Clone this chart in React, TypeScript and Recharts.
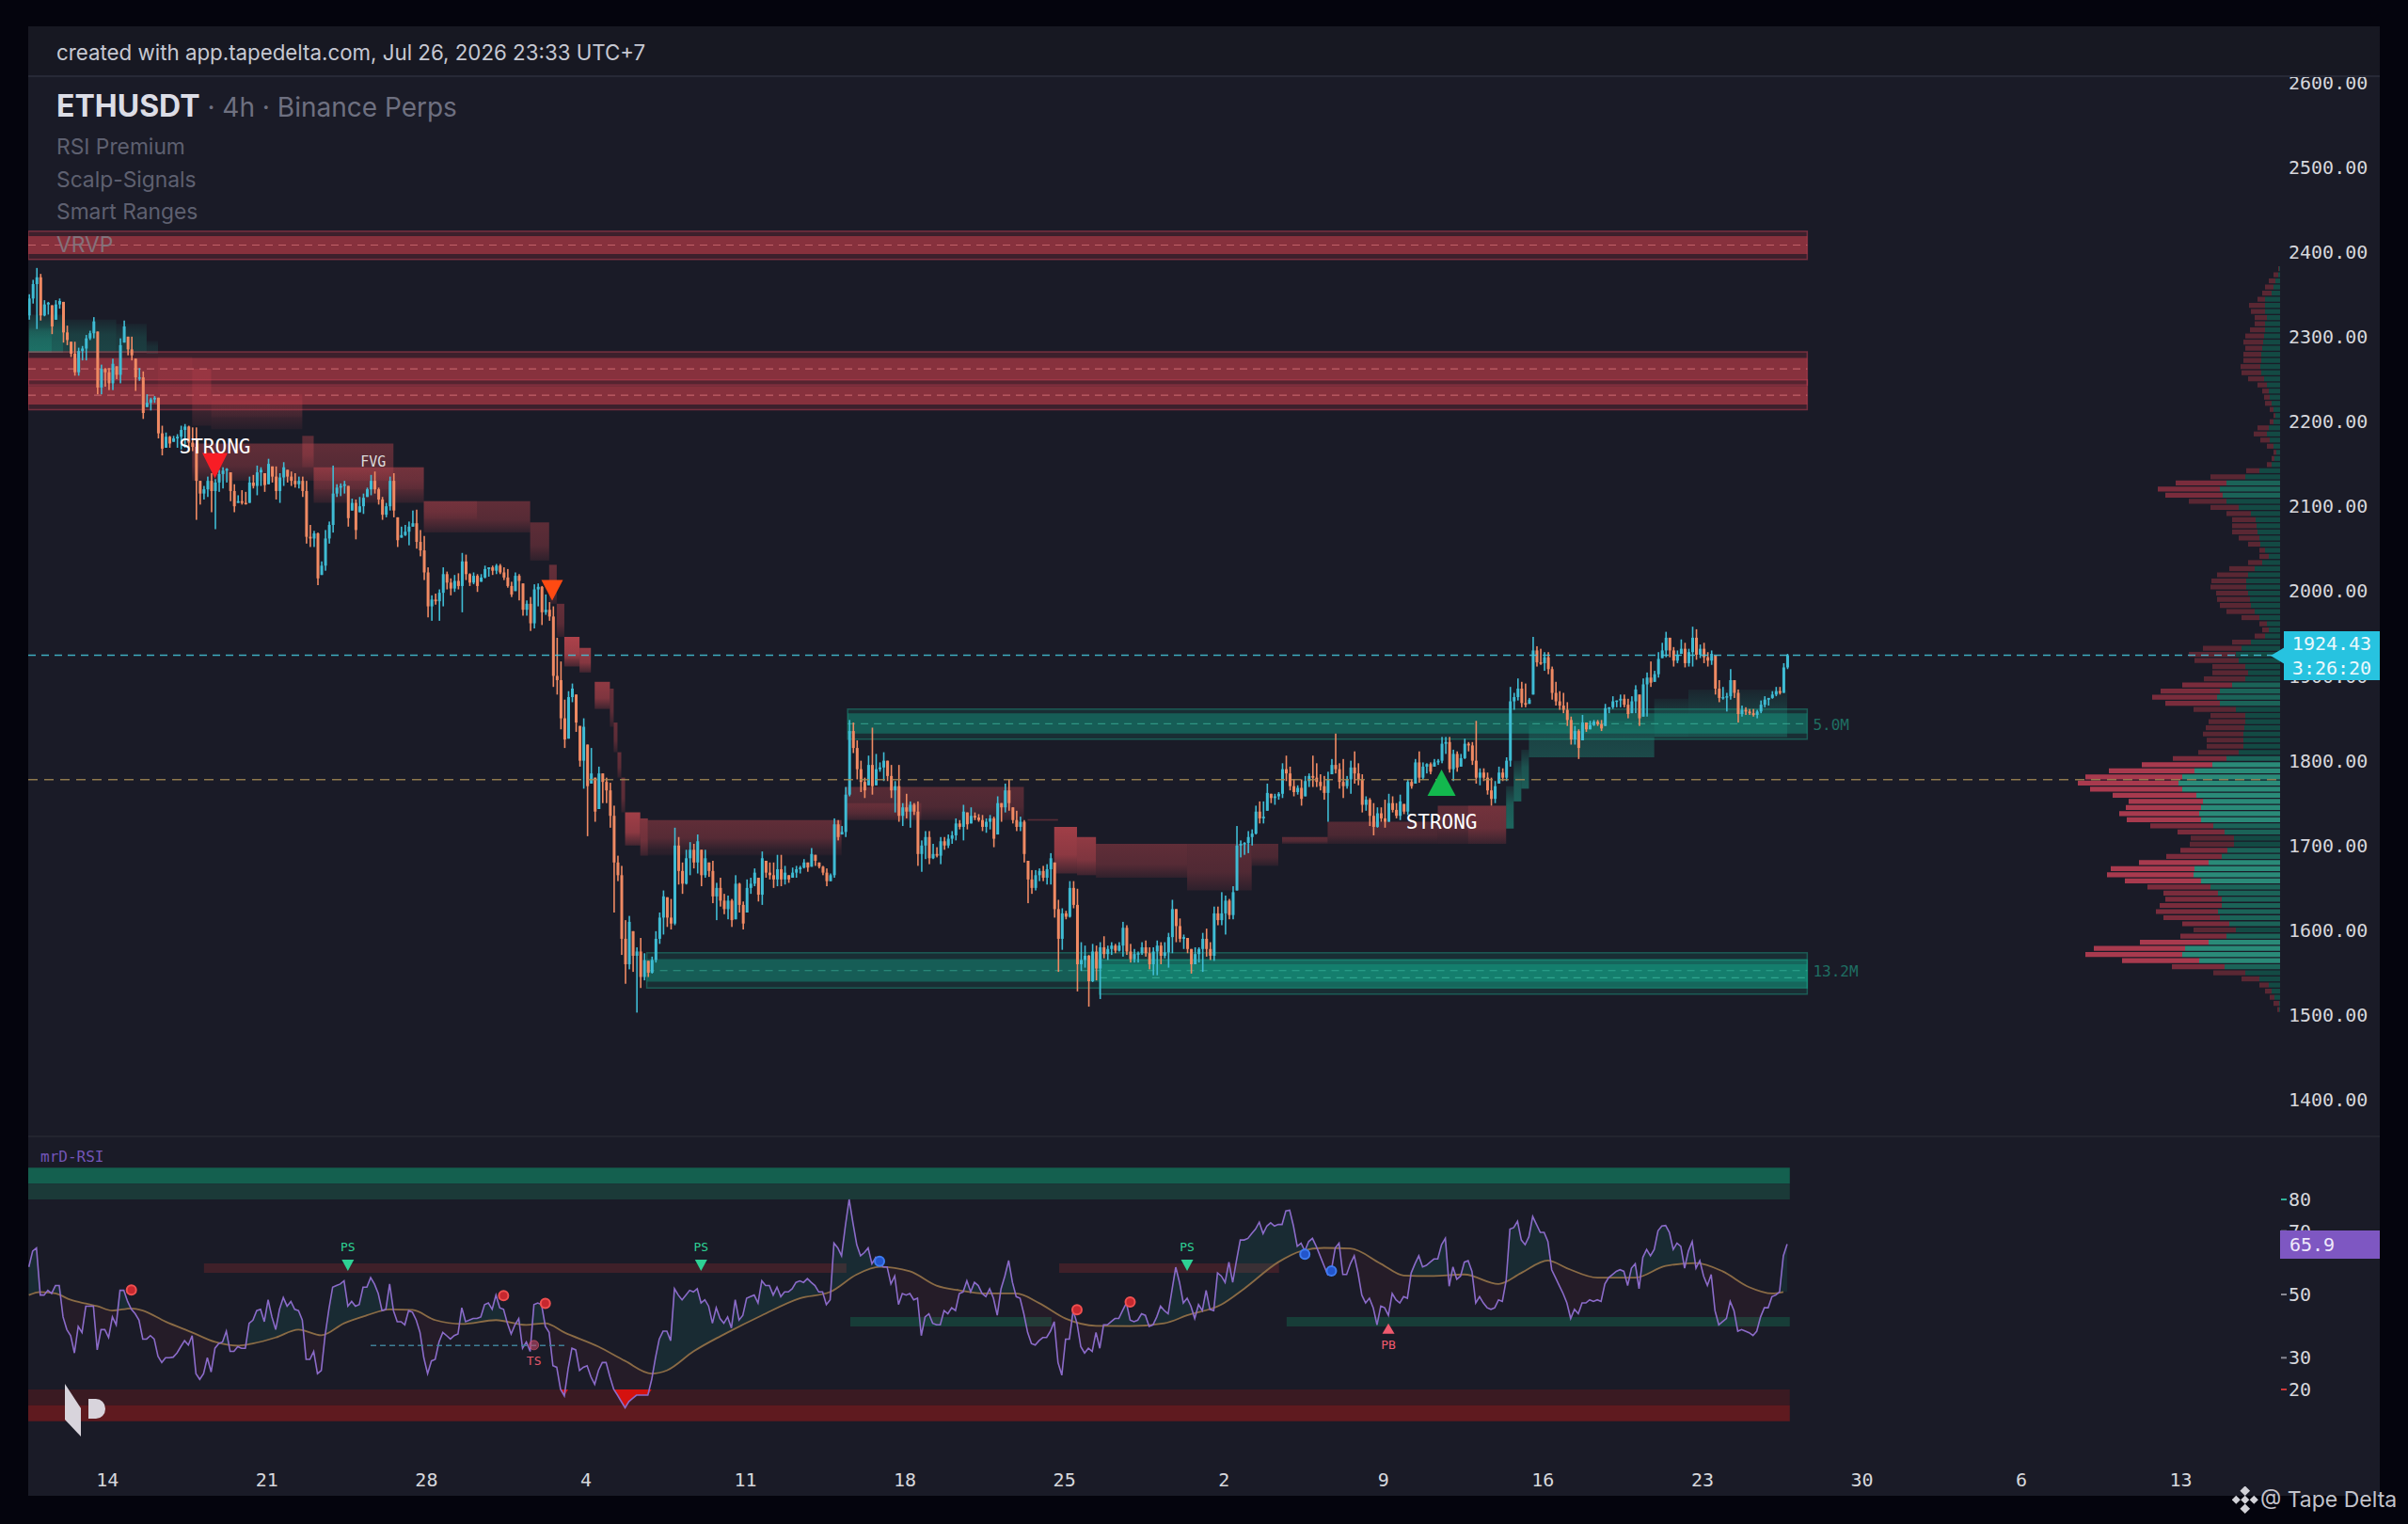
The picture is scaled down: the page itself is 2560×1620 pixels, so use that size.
import React from 'react';
import { ComposedChart, Bar, Line, Area, Cell, XAxis, YAxis, ReferenceArea, ReferenceLine, ReferenceDot } from 'recharts';

// ---------- price: [high, low, close] per 4h candle ----------
const candlesA = [
[2350,2320,2345],[2367,2339,2362],[2381,2309,2370],[2374,2319,2325],[2343,2324,2338],[2341,2326,2340],[2337,2303,2312],[2343,2320,2338],[2345,2333,2342],[2341,2293,2305],
[2313,2290,2296],[2294,2276,2280],[2294,2254,2258],[2287,2254,2283],[2289,2272,2286],[2302,2272,2298],[2307,2296,2304],[2323,2298,2318],[2306,2232,2240],[2267,2232,2262],
[2263,2241,2258],[2263,2237,2245],[2274,2237,2268],[2265,2250,2255],[2298,2245,2290],[2319,2293,2312],[2300,2278,2285],[2300,2272,2278],[2274,2236,2252],[2263,2248,2252],
[2259,2203,2210],[2232,2217,2222],[2228,2213,2226],[2230,2222,2228],[2228,2180,2186],[2195,2160,2168],[2187,2169,2182],[2183,2169,2174],[2183,2176,2180],[2185,2169,2182],
[2195,2167,2190],[2197,2169,2194],[2195,2165,2175],[2193,2165,2170],[2193,2084,2130],[2130,2102,2115],[2124,2108,2120],[2135,2111,2130],[2139,2093,2118],[2132,2073,2128],
[2143,2117,2138],[2146,2121,2142],[2145,2128,2144],[2140,2106,2118],[2126,2093,2100],[2113,2104,2106],[2119,2102,2104],[2117,2102,2103],[2135,2104,2128],[2137,2121,2124],
[2148,2113,2140],[2146,2124,2143],[2139,2117,2125],[2156,2126,2150],[2147,2128,2135],[2147,2108,2118],[2139,2104,2134],[2152,2124,2146],[2143,2128,2135],[2141,2124,2130],
[2139,2122,2126],[2135,2121,2130],[2135,2111,2118],[2130,2056,2064],[2078,2052,2062],[2071,2052,2068],[2069,2007,2015],[2035,2019,2030],[2072,2024,2062],[2082,2056,2078],
[2148,2069,2115],[2126,2111,2122],[2127,2112,2124],[2130,2115,2126],[2124,2076,2086],[2109,2095,2104],[2108,2061,2072],[2111,2093,2100],[2115,2091,2110],[2122,2111,2120],
[2137,2113,2130],[2141,2115,2120],[2122,2102,2108],[2111,2084,2090],[2104,2087,2100],[2135,2095,2130],[2139,2087,2095],[2087,2052,2060],[2076,2063,2066],[2078,2065,2070],
[2082,2054,2076],[2095,2076,2080],[2096,2050,2058],[2072,2041,2048],[2065,2013,2022],[2028,1969,1982],[1995,1965,1990],[1997,1984,1988],[2002,1965,1998],[2028,1982,2020],
[2023,2002,2010],[2015,1995,2003],[2019,1999,2012],[2021,2002,2006],[2045,1975,2035],[2043,2013,2020],[2021,2006,2010],
];
const candlesB = [
[2022,2008,2018],[2020,1999,2006],[2020,2011,2016],[2030,2015,2026],[2028,2017,2028],[2030,2019,2024],[2032,2020,2030],[2032,2020,2022],[2028,2013,2016],[2026,2004,2006],
[2011,1993,1996],[2022,2000,2018],[2020,1989,2012],[2009,1971,1978],[1989,1971,1985],[1993,1953,1962],[2008,1956,2002],[2009,1982,2005],[2006,1960,1975],[1996,1972,1978],
[1987,1965,1970],[1982,1887,1900],[1945,1878,1895],[1917,1837,1850],[1872,1815,1825],[1882,1826,1875],[1891,1869,1885],[1878,1834,1845],[1841,1793,1800],[1850,1767,1840],
[1819,1711,1770],[1815,1773,1785],[1780,1728,1740],[1793,1743,1785],[1785,1750,1775],[1780,1750,1765],[1774,1721,1735],[1747,1621,1680],[1688,1658,1665],[1676,1571,1590],
[1612,1537,1560],[1617,1554,1610],[1599,1551,1570],[1580,1503,1575],[1591,1532,1545],[1573,1541,1565],[1564,1545,1550],[1569,1549,1565],[1599,1562,1590],[1621,1584,1615],
[1647,1595,1640],[1639,1604,1615],[1637,1601,1608],[1721,1606,1700],[1710,1654,1670],[1680,1643,1655],[1695,1654,1685],[1704,1665,1695],[1702,1673,1680],[1713,1667,1705],
[1695,1652,1665],[1695,1662,1685],[1680,1663,1670],[1682,1632,1640],[1656,1612,1650],[1662,1628,1635],[1643,1619,1625],[1641,1613,1635],[1637,1604,1612],[1665,1613,1655],
[1656,1621,1630],[1634,1601,1608],[1660,1621,1650],[1662,1643,1655],[1673,1652,1668],[1662,1634,1642],[1693,1630,1685],[1682,1662,1668],[1680,1660,1665],[1680,1650,1660],
[1689,1652,1672],[1689,1652,1660],[1676,1654,1668],[1665,1656,1660],[1674,1662,1668],[1676,1662,1672],[1676,1667,1674],[1684,1673,1680],[1680,1669,1674],[1697,1675,1690],
[1689,1676,1682],[1680,1673,1675],[1676,1665,1668],[1673,1652,1658],[1667,1658,1665],[1732,1662,1725],[1730,1706,1710],[1723,1713,1716],[1769,1710,1760],[1848,1758,1835],
[1845,1809,1815],[1824,1778,1790],[1800,1763,1775],[1780,1756,1765],[1806,1771,1795],[1839,1760,1770],[1808,1771,1790],[1798,1787,1792],[1810,1776,1800],[1800,1776,1782],
[1795,1756,1765],[1776,1739,1770],[1795,1728,1735],[1750,1723,1745],[1761,1732,1740],[1752,1721,1748],[1750,1736,1740],[1752,1676,1690],[1706,1669,1700],
];
const candlesC = [
[1717,1684,1710],[1717,1678,1685],[1702,1684,1690],[1698,1686,1688],[1710,1678,1705],[1710,1695,1700],[1713,1697,1708],[1717,1702,1712],[1732,1706,1726],[1730,1719,1722],
[1748,1706,1740],[1739,1719,1725],[1745,1726,1735],[1739,1730,1733],[1737,1728,1730],[1736,1717,1722],[1732,1715,1728],[1736,1719,1732],[1734,1698,1708],[1758,1713,1750],
[1750,1728,1745],[1773,1739,1765],[1778,1741,1750],[1745,1726,1730],[1741,1717,1722],[1734,1717,1728],[1730,1680,1690],[1682,1632,1660],[1671,1643,1650],[1671,1647,1665],
[1673,1658,1670],[1676,1658,1662],[1678,1654,1672],[1691,1654,1685],[1680,1615,1625],[1636,1551,1590],[1626,1577,1620],[1623,1613,1616],[1658,1615,1650],[1658,1626,1630],
[1649,1528,1560],[1586,1552,1565],[1582,1556,1570],[1571,1510,1540],[1584,1539,1575],[1582,1541,1555],[1586,1519,1580],[1593,1567,1572],[1582,1565,1578],[1586,1571,1582],
[1584,1573,1576],[1586,1575,1582],[1610,1569,1603],[1606,1571,1575],[1584,1562,1566],[1578,1562,1572],[1575,1562,1573],[1586,1571,1580],[1588,1569,1573],[1580,1554,1560],
[1580,1547,1575],[1588,1547,1582],[1586,1560,1570],[1586,1567,1574],[1597,1556,1592],[1636,1573,1625],[1625,1586,1605],[1614,1586,1590],[1595,1578,1592],[1591,1573,1578],
[1578,1549,1560],[1580,1560,1572],[1580,1562,1578],[1597,1551,1590],[1602,1569,1578],[1586,1565,1570],[1628,1564,1620],[1628,1606,1612],[1645,1606,1620],[1641,1595,1635],
[1637,1613,1618],[1652,1613,1645],[1723,1647,1700],[1706,1686,1702],[1704,1689,1703],[1717,1691,1710],[1719,1700,1714],[1747,1713,1740],[1752,1726,1732],[1752,1726,1734],
[1773,1741,1762],[1761,1750,1756],[1761,1748,1758],[1763,1754,1761],[1797,1756,1790],[1806,1776,1785],[1793,1765,1770],[1778,1758,1763],[1771,1760,1768],[1778,1747,1755],
[1782,1758,1776],[1785,1769,1782],[1806,1769,1780],[1797,1769,1775],[1784,1765,1770],[1782,1754,1762],[1787,1728,1778],[1802,1784,1795],[1832,1785,1790],[1797,1767,1775],
[1802,1756,1770],[1782,1767,1778],[1800,1761,1792],[1811,1773,1785],[1797,1771,1778],[1784,1739,1748],
];
const candlesD = [
[1758,1741,1754],[1756,1723,1735],[1750,1712,1722],[1745,1721,1738],[1745,1728,1732],[1754,1721,1728],[1761,1728,1750],[1758,1739,1742],[1750,1732,1735],[1760,1730,1752],
[1749,1737,1740],[1778,1736,1775],[1778,1767,1770],[1802,1773,1798],[1811,1774,1780],[1798,1778,1793],[1797,1785,1796],[1798,1784,1787],[1802,1793,1798],[1802,1795,1800],
[1828,1797,1820],[1828,1808,1822],[1828,1786,1790],[1813,1776,1808],[1811,1787,1792],[1808,1793,1803],[1826,1802,1820],[1822,1811,1818],[1822,1795,1800],[1847,1773,1780],
[1791,1771,1786],[1791,1776,1780],[1786,1760,1765],[1780,1747,1755],[1776,1750,1770],[1793,1773,1786],[1791,1776,1780],[1804,1776,1800],[1887,1793,1870],[1880,1860,1875],
[1897,1871,1885],[1893,1863,1868],[1891,1863,1866],[1874,1867,1872],[1946,1878,1930],[1935,1911,1916],[1932,1913,1915],[1928,1906,1922],[1928,1902,1908],[1911,1872,1880],
[1893,1865,1870],[1882,1860,1865],[1880,1856,1860],[1869,1841,1848],[1852,1819,1825],[1841,1819,1835],[1837,1802,1815],[1854,1824,1845],[1845,1834,1837],[1847,1837,1842],
[1848,1841,1846],[1848,1841,1843],[1848,1835,1838],[1867,1841,1862],[1863,1856,1863],[1876,1861,1870],[1871,1863,1871],[1878,1863,1873],[1878,1863,1866],[1873,1850,1855],
[1876,1856,1870],[1889,1856,1884],[1878,1841,1850],[1897,1852,1890],[1904,1852,1898],[1917,1887,1892],[1906,1893,1902],[1928,1898,1920],[1939,1921,1930],[1952,1922,1945],
[1945,1922,1930],[1934,1911,1918],[1930,1915,1925],[1943,1926,1932],[1939,1910,1915],[1932,1911,1928],[1958,1911,1945],[1955,1919,1925],[1937,1921,1932],[1939,1915,1922],
[1928,1911,1918],[1930,1913,1926],[1924,1878,1885],[1895,1869,1874],[1887,1872,1875],[1880,1858,1876],[1908,1872,1895],[1895,1874,1880],[1884,1845,1855],[1865,1852,1860],
[1863,1854,1858],[1861,1854,1856],[1861,1852,1854],[1860,1850,1858],[1871,1856,1866],[1876,1863,1872],[1874,1865,1874],[1882,1873,1878],[1887,1876,1882],[1887,1878,1880],
[1915,1880,1910],[1926,1908,1924.43],
];
const firstOpen = 2325;
const priceTicks = [2600, 2500, 2400, 2300, 2200, 2100, 2000, 1900, 1800, 1700, 1600, 1500, 1400];
const lastPrice = 1924.43;
const pocPrice = 1777.7;

// ---------- volume profile, top row to bottom row ----------
const vrvpTopPrice = 2380.6;
const vrvpStep = 7.22;
const vrvpTotal = [2,7,12,16,19,24,33,31,27,27,32,37,39,37,39,39,42,41,34,24,19,17,16,11,7,11,24,28,21,14,7,9,14,36,74,111,130,122,97,74,57,51,51,51,44,34,22,22,34,54,67,73,74,68,67,64,57,41,22,19,27,51,82,97,91,72,72,81,104,127,136,122,92,74,76,79,82,78,78,87,114,147,182,207,215,202,178,161,164,171,163,138,109,95,96,106,121,150,180,184,165,141,124,122,128,132,124,104,92,106,149,198,207,168,115,71,41,22,16,11,7,3];
const vrvpBuy = [1,2,5,7,9,16,16,16,14,16,16,17,18,19,20,20,21,20,17,14,12,11,9,7,5,7,12,14,11,7,4,6,9,22,37,57,64,61,57,44,31,26,25,24,22,21,16,12,19,27,34,36,36,34,32,31,27,22,14,12,16,31,41,47,44,37,34,37,51,64,67,64,47,37,37,38,39,39,39,44,57,72,91,104,108,104,89,82,84,86,84,71,59,49,49,56,62,76,91,92,84,74,66,62,62,66,64,54,47,57,76,101,104,86,59,37,22,12,9,6,1,1];

// ---------- liquidity zones: from, to, outer high, outer low, inner high, inner low, mid ----------
const supplyZones = [
  [-0.17, 468.3, 2424.5, 2391, 2418.6, 2397.6, 2408],
  [-0.17, 468.3, 2282, 2243, 2275, 2249, 2262],
  [-0.17, 468.3, 2249, 2214, 2242, 2220, 2231],
];
const demandZones = [
  [215.6, 468.3, 1861, 1825.5, 1856, 1832, 1843.6],
  [162.7, 468.3, 1573.5, 1532, 1566, 1539.5, 1552.5],
  [281.9, 468.3, 1565, 1524.7, 1560, 1532, 1544],
];
// ---------- stepped cloud: from, to, high, low, strength ----------
const tealCloud = [
  [0,9,2326,2281,.5],[0,6,2310,2281,.25],[9,23,2320,2281,.3],[23,31,2315,2281,.25],[31,34,2295,2280,.16],
  [389,391,1770,1720,.55],[391,393,1800,1752,.5],[393,395,1813,1767,.48],[395,428,1847,1804,.34],[428,437,1873,1828,.3],[437,463,1884,1828,.28],
];
const redCloud = [
  [34,43,2276,2232,.12],[43,48,2262,2195,.3],[48,72,2232,2191,.24],[48,72,2225,2205,.12],[72,75,2183,2146,.4],
  [43,96,2174,2130,.42],[75,104,2146,2104,.42],[75,104,2146,2120,.18],[104,132,2106,2069,.42],[104,118,2106,2085,.2],
  [132,137,2081,2036,.4],[137,139,2031,1985,.45],[139,141,1985,1946,.45],[141,145,1946,1911,.85],[141,145,1946,1920,.15],[145,148,1933,1904,.75],
  [149,153,1893,1861,.7],[153,154,1885,1840,.45],[154,155,1845,1810,.45],[155,156,1810,1780,.45],[156,157,1780,1739,.45],
  [157,161,1739,1700,.8],[161,163,1732,1688,.6],[163,214,1730,1695,.42],[163,214,1695,1688,.12],[215,262,1769,1730,.36],[215,235,1750,1730,.2],
  [263,271,1731,1729,.4],[270,276,1722,1667,.8],[276,281,1710,1665,.7],[281,305,1702,1662,.42],[305,322,1702,1647,.38],[322,329,1702,1676,.34],
  [330,342,1710,1702,.4],[342,371,1728,1702,.34],[371,389,1747,1702,.4],[379,389,1747,1702,.22],
];

// ---------- RSI ----------
const rsiFirst = [58.7,63.7,64.7,49.8,49.8,51.3,50.3,52.8,52.8,42.9,38.9,37,31.5,39.9,38,46.3,46.3,46.3,32.5,38.9,38.9,36.4,42.9,40.4,51.3,51.3,47.8,45.3,43.9,41.9,35.9,35.9,37,35.9,30.5,28.5,30,30,30.2,31.5,33.5,35.4,34,37,25,23.2,25,30,25.5,33,34.5,35,38.4,32,32,33.5,33,33,40.9,41.9,44.9,45.3,41.4,48.3,42.9,38.9,45.3,49,46.3,47.8,45.3,44.9,41.9,29.5,29.5,32,25,26,37,45.3,52.3,52.8,53.3,54.3,46.3,47.8,46.3,46.8,52.3,52.3,55.3,53.3,50.3,44.9,45.3,53.3,44.9,41.4,41.4,40.4,44.9,44.4,41.9,38,30,25,29,29.5,35,38,37,35.9,37,37.5,45.8,41.4,41.9,42.4,42.4,42.9,46.8,47.3,45.3,49.8,45.8,45.3,40.9,37.5,40.4,42.4,33,35,32,46.8,47.3,46.8,39.9,38,27.5,27,20.1,18,26.5,33,32.5,26,27,27.5,24,21.6,26,28.5,28.5,24,20.1,18.2,16.2,14.2,16.2,17.2,18.2,18.2,18.2,18.2,23.1,30,35.9,38.4,38.4,35.4,51.8,49.8,48.3,49.8,51.3,50.8,51.8,47.3,48.3,46.3,40.9,45.8,42.4,40.9,42.9,39.4,48.3,41.9,43.4,48.8,49.3,49.8,47.3,54.3,52.8,52.8,49.8,52.3,49.3,50.8,50.8,51.8,53.8,54.3,53.8,55,53.8,52.8,50.8,50.8,46.8,48.3,66.2,64.7,62.2,71.6,80,72.6,65.7,62.2,63.2,64.7,59.7,61.7,59.7,58.7,58.7,53.3,55.8,46.8,50.3,49.8,50.3];
const rsiSecond = [48.3,48.8,37,42.9,43.9,40.9,40.4,40.4,44.9,43.9,45.8,44.9,50.3,50.8,54.3,50.8,53.8,52.8,50.3,49.3,51.8,48.8,43.4,51.8,55.8,60.7,53.8,49.3,48.8,43.9,38,34.5,34,35.4,36.4,36.4,38.4,41.4,28.5,24.5,35.9,35.9,44.9,40.9,33.5,31.5,33,32,38,33,40.4,40.4,41.4,42.4,42.4,44.9,47.3,41.9,41.4,41.9,43.9,43.4,39.9,40.4,42.9,46.3,44.9,43.9,51.3,58.6,53.8,47.3,48.8,46.3,42.4,46.8,44.9,51.3,45.3,44.9,56.8,55.8,53.8,60.2,53.8,60.7,67.2,67.2,67.7,69.2,70.6,72.8,69.2,71.6,72.6,71.6,72.1,72.1,76.4,76.6,71.6,65.2,66.2,63.7,66.7,67.7,65.2,62.2,59.2,56.3,57.8,64.7,66.2,56.3,56.3,59.7,62.2,56.8,49.8,47.3,48.8,45.8,40.4,46.3,45.8,43.4,50.3,48.3,47.3,49.3,48.8,56.8,59.7,62.2,58.7,59.2,60.2,61.2,61.2,65.7,67.7,52.6,58.7,54.8,55.8,60.2,60.7,57.3,47.3,49.3,47.3,45.8,45.3,45.8,48.3,47.8,54.3,70.6,71.1,73.1,67.2,65.7,68.2,74.6,72.1,69.6,69.6,66.7,57.8,55.3,52.8,50.3,47.3,42.4,45.3,43.9,47.3,47.3,48.3,47.8,48.3,47.8,53.3,55.3,56.3,57.3,57.8,57.3,52.8,58.3,59.7,51.8,61.7,64.2,62.2,64.2,70.1,71.6,71.8,69.6,64.2,66.2,65.2,58.3,63.7,66.7,58.3,60.7,55.8,52.8,56.3,44.9,40.4,41.4,42.4,47.8,44.9,38.4,38.9,38.4,37.9,37,38.4,42.9,45.8,45.8,49.3,49.8,50.8,62.2,65.9];
const smaIndex = [0,3,7,11,15,18,22,27,30,36,43,49,55,59,65,71,77,83,89,95,101,107,114,123,131,136,141,150,157,164,168,175,184,193,203,211,218,224,232,239,245,252,260,266,273,281,290,299,305,314,320,329,335,341,348,356,362,369,378,387,393,400,405,413,423,431,439,446,453,459,462];
const smaValue = [49.8,50.8,50.3,48.3,47.1,46.3,44.9,45.6,44.9,41.4,38,35,33.8,34.5,36.4,38.9,37.1,40.9,43.4,45.3,45.1,41.9,40.7,41.9,40.4,40.9,38,33.5,29,25,26,32,38,43.4,48.8,50.8,56.3,58.7,57.3,52.8,51.3,50.3,50.3,47.3,42.4,40.1,40,40.9,43.4,46.8,51.8,60.2,63.7,64.7,64.5,59.7,56,55.8,56.3,53.3,56.8,60.7,58.3,55.3,55.3,59,59.9,57.3,52.3,50.3,50.8];
const rsiTicks = [80, 70, 50, 30, 20];
const rsiTickColor = { 80: '#2fb39a', 70: '#8a8b95', 50: '#8a8b95', 30: '#8a8b95', 20: '#d03a3a' };
const rsiBands = [[85,90,'#14604f'],[80,85,'#1b3a38'],[15,20,'#3a1a22'],[10,15,'#5f1a1f']];
const rsiBoxes = [[46.1,215.3,56.8,59.8,'#3f2029'],[271.3,329.2,56.8,59.8,'#3f2029'],[216.3,269.3,39.9,42.9,'#173d38'],[331.2,463.7,39.9,42.9,'#173d38']];
const redDots = [[27,51.4],[125,49.6],[136,47.2],[276,45.2],[290,47.6]];
const blueDots = [[224,60.5],[336,62.7],[343,57.4]];
const psMarks = [84,177,305];

// ---------- x axis ----------
const dayTickPos = [20.7,62.7,104.7,146.7,188.7,230.7,272.7,314.7,356.7,398.7,440.7,482.7,524.7,566.7];
const dayTickText = ['14','21','28','4','11','18','25','2','9','16','23','30','6','13'];

// ---------- theme ----------
const MONO = "'DejaVu Sans Mono', monospace";
const SANS = "Inter, 'Noto Sans', sans-serif";
const UP = '#3fbcd4';
const DOWN = '#f08a63';
const X_DOMAIN = [-0.17, 592.8];
const PRICE_DOMAIN = [1357, 2606];
const RSI_DOMAIN = [-1.1, 99.9];
const FULL_W = 2500;
const AXIS_W = 106;
const PRICE_H = 1126;
const RSI_H = 382;

// ---------- tables ----------
const allCandles = [...candlesA, ...candlesB, ...candlesC, ...candlesD];
let prevClose = firstOpen;
const candleTable = allCandles.map(([high, low, close], idx) => {
  const open = Math.min(high, Math.max(low, prevClose));
  prevClose = close;
  return { idx, high, low, open, close, span: [low, high] };
});
const vrvpTable = vrvpTotal.map((t, k) => ({
  price: vrvpTopPrice - k * vrvpStep,
  buy: vrvpBuy[k],
  sell: t - vrvpBuy[k],
  total: t,
}));
const rsiAll = [...rsiFirst, ...rsiSecond];
const smaAt = (i: number) => {
  let k = 0;
  while (k < smaIndex.length - 2 && smaIndex[k + 1] < i) k++;
  const f = (i - smaIndex[k]) / (smaIndex[k + 1] - smaIndex[k]);
  return smaValue[k] + (smaValue[k + 1] - smaValue[k]) * Math.min(1, f);
};
const rsiTable = rsiAll.map((r, idx) => {
  const s = smaAt(idx);
  const prevR = rsiAll[idx - 1] ?? r;
  const nextR = rsiAll[idx + 1] ?? r;
  const low = r < 20 || prevR < 20 || nextR < 20;
  const k = smaIndex.indexOf(idx);
  return {
    idx,
    rsi: r,
    sma: k >= 0 ? smaValue[k] : null,
    upFill: [s, Math.max(r, s)],
    dnFill: [Math.min(r, s), s],
    oversold: low ? [Math.min(r, 20), 20] : null,
  };
});

const vrvpColor = (t: number, buy: boolean) => {
  if (t >= 145) return buy ? '#2a8a78' : '#a83a4e';
  if (t >= 100) return buy ? '#1b6358' : '#7a2c3c';
  return buy ? '#134a44' : '#5a2733';
};

// ---------- shapes ----------
function CandleShape(props: any) {
  const { x, y, width, height, payload } = props;
  if (!payload || !height) return null;
  const cx = x + width / 2;
  const k = height / (payload.high - payload.low);
  const top = y + (payload.high - Math.max(payload.open, payload.close)) * k;
  const bh = Math.max(1.5, Math.abs(payload.open - payload.close) * k);
  const fill = payload.close >= payload.open ? UP : DOWN;
  return (
    <g>
      <rect x={cx - 0.8} y={y} width={1.6} height={height} fill={fill} />
      <rect x={cx - 1.5} y={top} width={3} height={bh} fill={fill} />
    </g>
  );
}
const triangle = (w: number, h: number, color: string, down: boolean) => (p: any) => {
  const { cx, cy } = p;
  const pts = down
    ? `${cx - w / 2},${cy - h / 2} ${cx + w / 2},${cy - h / 2} ${cx},${cy + h / 2}`
    : `${cx - w / 2},${cy + h / 2} ${cx + w / 2},${cy + h / 2} ${cx},${cy - h / 2}`;
  return <polygon points={pts} fill={color} />;
};
const label = (text: string, size: number, color: string, anchor = 'middle') => (p: any) => (
  <text x={p.cx} y={p.cy + size * 0.36} textAnchor={anchor} fontFamily={MONO} fontSize={size} fill={color}>{text}</text>
);
function RsiTick(props: any) {
  const { x, y, payload } = props;
  return (
    <g>
      <line x1={x + 1} x2={x + 7} y1={y} y2={y} stroke={(rsiTickColor as any)[payload.value]} strokeWidth={2} />
      <text x={x + 9} y={y + 7} fontFamily={MONO} fontSize={20} fill="#d6d7dc">{payload.value}</text>
    </g>
  );
}

const layer = (top: number, h: number, z: number): React.CSSProperties => ({ position: 'absolute', left: 30, top, width: FULL_W, height: h, zIndex: z });
const html = (left: number, top: number, extra: React.CSSProperties): React.CSSProperties => ({ position: 'absolute', left, top, whiteSpace: 'nowrap', zIndex: 10, ...extra });

export default function App() {
  return (
    <div style={{ position: 'absolute', left: 0, top: 0, width: 2560, height: 1620, background: '#04040d', overflow: 'hidden' }}>
      <div style={{ position: 'absolute', left: 30, top: 28, width: 2500, height: 1562, background: '#1a1b27' }} />

      {/* price zones and axis */}
      <div style={layer(82, PRICE_H, 1)}>
        <ComposedChart width={FULL_W} height={PRICE_H} data={candleTable} margin={{ top: 0, right: 0, bottom: 0, left: 0 }}>
          <defs>
            <linearGradient id="redFade" x1="0" y1="0" x2="0" y2="1">
              <stop offset="0" stopColor="#c2474f" stopOpacity={1} />
              <stop offset="0.6" stopColor="#c2474f" stopOpacity={0.85} />
              <stop offset="1" stopColor="#c2474f" stopOpacity={0.3} />
            </linearGradient>
            <linearGradient id="tealFade" x1="0" y1="0" x2="0" y2="1">
              <stop offset="0" stopColor="#1fa48c" stopOpacity={0.25} />
              <stop offset="0.45" stopColor="#1fa48c" stopOpacity={0.85} />
              <stop offset="1" stopColor="#1fa48c" stopOpacity={1} />
            </linearGradient>
          </defs>
          <XAxis type="number" dataKey="idx" domain={X_DOMAIN} hide allowDataOverflow />
          <YAxis yAxisId={0} orientation="right" type="number" width={AXIS_W} domain={PRICE_DOMAIN} ticks={priceTicks} allowDataOverflow interval={0}
            axisLine={false} tickLine={false} tickSize={0} tickMargin={9} tickFormatter={(v: number) => v.toFixed(2)}
            tick={{ fill: '#d6d7dc', fontFamily: MONO, fontSize: 20, textAnchor: 'start' }} />
          {tealCloud.map(([a, b, hi, lo, op], k) => (
            <ReferenceArea key={'tc' + k} x1={a} x2={b} y1={lo} y2={hi} fill="url(#tealFade)" fillOpacity={op} stroke="none" />
          ))}
          {redCloud.map(([a, b, hi, lo, op], k) => (
            <ReferenceArea key={'rc' + k} x1={a} x2={b} y1={lo} y2={hi} fill="url(#redFade)" fillOpacity={op} stroke="none" />
          ))}
          {supplyZones.map(([a, b, oh, ol, ih, il], k) => (
            <React.Fragment key={'s' + k}>
              <ReferenceArea x1={a} x2={b} y1={ol} y2={oh} fill="#b5303f" fillOpacity={0.22} stroke="#d0485a" strokeOpacity={0.45} strokeWidth={1.5} />
              <ReferenceArea x1={a} x2={b} y1={il} y2={ih} fill="#c4404c" fillOpacity={0.55} stroke="none" />
            </React.Fragment>
          ))}
          {demandZones.map(([a, b, oh, ol, ih, il], k) => (
            <React.Fragment key={'d' + k}>
              <ReferenceArea x1={a} x2={b} y1={ol} y2={oh} fill="#17a58a" fillOpacity={0.14} stroke="#1fae92" strokeOpacity={0.4} strokeWidth={1.5} />
              <ReferenceArea x1={a} x2={b} y1={il} y2={ih} fill="#13a085" fillOpacity={0.42} stroke="none" />
            </React.Fragment>
          ))}
          {supplyZones.map(([a, b, , , , , mid], k) => (
            <ReferenceLine key={'sm' + k} segment={[{ x: a, y: mid }, { x: b, y: mid }]} stroke="#e07a80" strokeOpacity={0.65} strokeDasharray="8 6" strokeWidth={1.2} />
          ))}
          {demandZones.map(([a, b, , , , , mid], k) => (
            <ReferenceLine key={'dm' + k} segment={[{ x: a, y: mid }, { x: b, y: mid }]} stroke="#45c4ac" strokeOpacity={0.55} strokeDasharray="8 6" strokeWidth={1.2} />
          ))}
        </ComposedChart>
      </div>

      {/* volume profile */}
      <div style={layer(82, PRICE_H, 2)}>
        <ComposedChart layout="vertical" width={FULL_W} height={PRICE_H} data={vrvpTable} margin={{ top: 0, right: AXIS_W, bottom: 0, left: 0 }}>
          <XAxis type="number" domain={[0, 2394]} reversed hide allowDataOverflow />
          <YAxis type="number" dataKey="price" domain={PRICE_DOMAIN} reversed hide allowDataOverflow />
          <Bar dataKey="buy" stackId="v" barSize={5.2} isAnimationActive={false}>
            {vrvpTable.map((r, k) => <Cell key={k} fill={vrvpColor(r.total, true)} />)}
          </Bar>
          <Bar dataKey="sell" stackId="v" barSize={5.2} isAnimationActive={false}>
            {vrvpTable.map((r, k) => <Cell key={k} fill={vrvpColor(r.total, false)} />)}
          </Bar>
        </ComposedChart>
      </div>

      {/* candles and annotations */}
      <div style={layer(82, PRICE_H, 3)}>
        <ComposedChart width={FULL_W} height={PRICE_H} data={candleTable} margin={{ top: 0, right: AXIS_W, bottom: 0, left: 0 }}>
          <XAxis type="number" dataKey="idx" domain={X_DOMAIN} hide allowDataOverflow />
          <YAxis type="number" domain={PRICE_DOMAIN} hide allowDataOverflow />
          <Bar dataKey="span" barSize={3} shape={CandleShape} isAnimationActive={false} />
          <ReferenceLine y={lastPrice} stroke="#45c6da" strokeOpacity={0.85} strokeDasharray="8 6" strokeWidth={1.5} />
          <ReferenceLine y={pocPrice} stroke="#a58a55" strokeOpacity={0.85} strokeDasharray="10 7" strokeWidth={1.5} />
          <ReferenceDot x={49} y={2148} r={1} shape={triangle(27, 27, '#f81d25', true)} />
          <ReferenceDot x={49} y={2171} r={1} shape={label('STRONG', 21, '#ffffff')} />
          <ReferenceDot x={90.7} y={2153} r={1} shape={label('FVG', 15, '#dcdcdc')} />
          <ReferenceDot x={137.8} y={2001} r={1} shape={triangle(23, 22, '#ff4a12', true)} />
          <ReferenceDot x={372} y={1774} r={1} shape={triangle(30, 28, '#13b84e', false)} />
          <ReferenceDot x={372} y={1728} r={1} shape={label('STRONG', 21, '#ffffff')} />
          <ReferenceDot x={469.8} y={1843} r={1} shape={label('5.0M', 16, '#1f6e62', 'start')} />
          <ReferenceDot x={469.8} y={1552} r={1} shape={label('13.2M', 16, '#1f6e62', 'start')} />
        </ComposedChart>
      </div>

      {/* RSI pane */}
      <div style={layer(1208, RSI_H, 4)}>
        <ComposedChart width={FULL_W} height={RSI_H} data={rsiTable} margin={{ top: 0, right: 0, bottom: 0, left: 0 }}>
          <XAxis type="number" dataKey="idx" domain={X_DOMAIN} ticks={dayTickPos} interval={0} height={42} allowDataOverflow
            axisLine={false} tickLine={false} tickSize={0} tickMargin={18}
            tickFormatter={(v: number) => dayTickText[dayTickPos.indexOf(v)]}
            tick={{ fill: '#d6d7dc', fontFamily: MONO, fontSize: 20 }} />
          <YAxis orientation="right" type="number" width={AXIS_W} domain={RSI_DOMAIN} ticks={rsiTicks} interval={0} allowDataOverflow
            axisLine={false} tickLine={false} tickSize={0} tickMargin={0} tick={<RsiTick />} />
          {rsiBands.map(([a, b, c], k) => (
            <ReferenceArea key={'b' + k} x1={-0.17} x2={463.7} y1={a} y2={b} fill={c as string} fillOpacity={1} stroke="none" />
          ))}
          {rsiBoxes.map(([a, b, lo, hi, c], k) => (
            <ReferenceArea key={'x' + k} x1={a} x2={b} y1={lo} y2={hi} fill={c as string} fillOpacity={1} stroke="none" />
          ))}
          <Area dataKey="upFill" stroke="none" fill="#17a58a" fillOpacity={0.12} isAnimationActive={false} dot={false} activeDot={false} />
          <Area dataKey="dnFill" stroke="none" fill="#b5303f" fillOpacity={0.08} isAnimationActive={false} dot={false} activeDot={false} />
          <Area dataKey="oversold" stroke="none" fill="#d5120f" fillOpacity={1} isAnimationActive={false} dot={false} activeDot={false} />
          <Line dataKey="sma" type="monotone" connectNulls stroke="#8a6b45" strokeWidth={1.8} dot={false} activeDot={false} isAnimationActive={false} />
          <Line dataKey="rsi" type="linear" stroke="#8b6bc9" strokeWidth={1.6} dot={false} activeDot={false} isAnimationActive={false} />
          <ReferenceLine segment={[{ x: 90, y: 33.9 }, { x: 141, y: 33.9 }]} stroke="#3f7f96" strokeDasharray="6 4" strokeWidth={1.5} />
          {redDots.map(([x, y], k) => (
            <ReferenceDot key={'rd' + k} x={x} y={y} r={5} fill="#c7282f" stroke="#f05050" strokeWidth={2} />
          ))}
          {blueDots.map(([x, y], k) => (
            <ReferenceDot key={'bd' + k} x={x} y={y} r={5} fill="#2255cc" stroke="#3d7bf0" strokeWidth={2} />
          ))}
          <ReferenceDot x={133} y={34} r={5} fill="#c34a6a" fillOpacity={0.6} stroke="#e0586a" strokeOpacity={0.6} />
          <ReferenceDot x={133} y={29} r={1} shape={label('TS', 13, '#e0586a')} />
          {psMarks.map((x) => (
            <React.Fragment key={'ps' + x}>
              <ReferenceDot x={x} y={59.2} r={1} shape={triangle(13, 12, '#2ed194', true)} />
              <ReferenceDot x={x} y={65} r={1} shape={label('PS', 13, '#2ed194')} />
            </React.Fragment>
          ))}
          <ReferenceDot x={358} y={39.2} r={1} shape={triangle(13, 11, '#ef5a6e', false)} />
          <ReferenceDot x={358} y={34.3} r={1} shape={label('PB', 13, '#ef5a6e')} />
        </ComposedChart>
      </div>

      {/* separators */}
      <div style={{ position: 'absolute', left: 30, top: 1207, width: 2500, height: 2, background: '#23252f', zIndex: 5 }} />

      {/* logo */}
      <svg style={{ position: 'absolute', left: 60, top: 1465, zIndex: 6 }} width={60} height={70}>
        <polygon points="9,6 26,32 26,62 9,44" fill="#d8d4dc" />
        <path d="M34,22 h8 a10,10.5 0 0 1 0,21 h-8 z" fill="#d8d4dc" />
      </svg>

      {/* header */}
      <div style={{ position: 'absolute', left: 30, top: 28, width: 2500, height: 54, background: '#171822', borderBottom: '2px solid #272936', boxSizing: 'border-box', zIndex: 9 }} />
      <div style={html(60, 42, { fontFamily: SANS, fontSize: 22.3, color: '#c6c8d2', zIndex: 10 })}>created with app.tapedelta.com, Jul 26, 2026 23:33 UTC+7</div>
      <div style={html(60, 93, { fontFamily: SANS, fontSize: 28, color: '#6e7080' })}>
        <span style={{ fontWeight: 700, fontSize: 32, color: '#dcdde6' }}>ETHUSDT</span>{' · 4h · Binance Perps'}
      </div>
      {['RSI Premium', 'Scalp-Signals', 'Smart Ranges', 'VRVP'].map((t, k) => (
        <div key={t} style={html(60, 142 + k * 34.7, { fontFamily: SANS, fontSize: 22.8, color: t === 'VRVP' ? '#84727b' : '#5e6070' })}>{t}</div>
      ))}
      <div style={html(43, 1220, { fontFamily: MONO, fontSize: 16, color: '#7356b8' })}>mrD-RSI</div>

      {/* last price box */}
      <svg style={{ position: 'absolute', left: 2414, top: 686, zIndex: 10 }} width={16} height={22}>
        <polygon points="0,11 15,2 15,20" fill="#27c3e0" />
      </svg>
      <div style={{ position: 'absolute', left: 2428, top: 671, width: 102, height: 52, background: '#27c3e0', color: '#eaf8fc', fontFamily: MONO, fontSize: 20, lineHeight: '26px', textAlign: 'center', zIndex: 10 }}>
        <div>1924.43</div><div>3:26:20</div>
      </div>
      <div style={{ position: 'absolute', left: 2424, top: 1308, width: 106, height: 30, background: '#7e57c2', color: '#efe9fb', fontFamily: MONO, fontSize: 20, lineHeight: '30px', paddingLeft: 10, boxSizing: 'border-box', zIndex: 10 }}>65.9</div>

      {/* watermark */}
      <svg style={{ position: 'absolute', left: 2373, top: 1580, zIndex: 11 }} width={28} height={30}>
        <g fill="#d2d2d8" transform="translate(1 1)">
          <rect x={9} y={0} width={7.5} height={7.5} transform="rotate(45 12.75 3.75)" />
          <rect x={0} y={10} width={6.5} height={6.5} transform="rotate(45 3.25 13.25)" />
          <rect x={19} y={10} width={6.5} height={6.5} transform="rotate(45 22.25 13.25)" />
          <rect x={9.5} y={10} width={6.5} height={6.5} transform="rotate(45 12.75 13.25)" />
          <rect x={9} y={19} width={7.5} height={7.5} transform="rotate(45 12.75 22.75)" />
        </g>
      </svg>
      <div style={html(2403, 1580, { fontFamily: SANS, fontSize: 23, color: '#c2c2ca', zIndex: 11 })}>@ Tape Delta</div>
    </div>
  );
}
